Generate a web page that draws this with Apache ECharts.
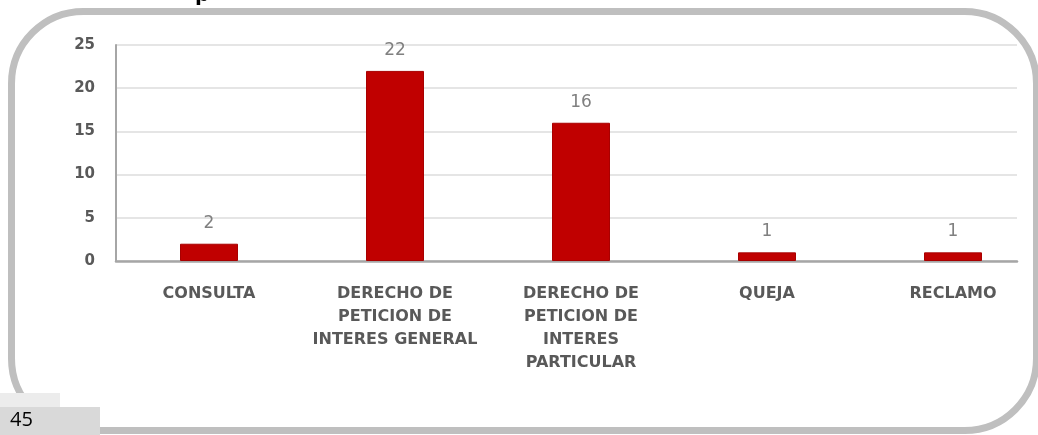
<!DOCTYPE html>
<html>
<head>
<meta charset="utf-8">
<script src="https://cdn.jsdelivr.net/npm/echarts@6/dist/echarts.min.js"></script>
<style>
	html, body { margin: 0; padding: 0; background: #fff; }
	#chart { width: 1038px; height: 435px; }
</style>
</head>
<body>
<div id="chart"></div>
<script>
const categories = [
	'CONSULTA',
	'DERECHO DE\nPETICION DE\nINTERES GENERAL',
	'DERECHO DE\nPETICION DE\nINTERES\nPARTICULAR',
	'QUEJA',
	'RECLAMO'
];
const counts = [2, 22, 16, 1, 1];
const yTicks = [0, 5, 10, 15, 20, 25];
const pageNumber = '45';

const axisGray = '#a6a6a6';
const labelGray = '#595959';
const font = '"DejaVu Sans", sans-serif';

function renderChart() {
	const chart = echarts.init(document.getElementById('chart'), null, { renderer: 'canvas' });

	// bars sit on a value axis so the last band can be narrower than the others
	const barData = counts.map((v, i) => [i, v]);

	chart.setOption({
		animation: false,
		grid: { left: 116, right: 21, top: 45, bottom: 174 },
		xAxis: {
			type: 'value',
			min: -0.5,
			max: 4.344,
			splitLine: { show: false },
			axisTick: { show: false },
			axisLine: { show: true, lineStyle: { color: axisGray, width: 2.5 } },
			axisLabel: {
				customValues: [0, 1, 2, 3, 4],
				formatter: (v) => categories[Math.round(v)],
				color: labelGray,
				fontFamily: font,
				fontWeight: 'bold',
				fontSize: 16,
				lineHeight: 23,
				margin: 21,
				align: 'center'
			}
		},
		yAxis: {
			type: 'value',
			min: yTicks[0],
			max: yTicks[yTicks.length - 1],
			interval: 5,
			axisLine: { show: true, onZero: false, lineStyle: { color: axisGray, width: 2 } },
			axisTick: { show: false },
			splitLine: { lineStyle: { color: '#dcdcdc', width: 1.5 } },
			axisLabel: {
				color: labelGray,
				fontFamily: font,
				fontWeight: 'bold',
				fontSize: 15,
				margin: 21
			}
		},
		series: [{
			type: 'bar',
			data: barData,
			barWidth: 58,
			itemStyle: { color: '#c00000', borderColor: '#a80000', borderWidth: 1 },
			label: {
				show: true,
				position: 'top',
				distance: 12,
				formatter: (p) => p.value[1],
				color: '#808080',
				fontFamily: font,
				fontSize: 17
			}
		}],
		graphic: [
			{
				type: 'rect',
				z: 100,
				shape: { x: 11.5, y: 11.5, width: 1025, height: 419, r: 72 },
				style: { fill: 'none', stroke: '#bfbfbf', lineWidth: 7 }
			},
			{
				type: 'rect',
				z: 101,
				shape: { x: 60, y: 340, width: 40, height: 67 },
				style: { fill: '#fff' }
			},
			{
				type: 'rect',
				z: 101,
				shape: { x: 0, y: 393, width: 60, height: 14 },
				style: { fill: '#ececec' }
			},
			{
				type: 'rect',
				z: 101,
				shape: { x: 0, y: 407, width: 100, height: 28 },
				style: { fill: '#d9d9d9' }
			},
			{
				type: 'text',
				z: 102,
				x: 10,
				y: 420,
				style: {
					text: pageNumber,
					fill: '#000',
					font: '20px "Open Sans", sans-serif',
					verticalAlign: 'middle'
				}
			},
			{
				type: 'text',
				z: 102,
				x: 195,
				y: 6,
				style: {
					text: 'p',
					fill: '#000',
					font: 'bold 20px "DejaVu Sans", sans-serif',
					verticalAlign: 'bottom'
				}
			}
		]
	});

	window.addEventListener('resize', () => chart.resize());
}

document.addEventListener('DOMContentLoaded', renderChart);
</script>
</body>
</html>
